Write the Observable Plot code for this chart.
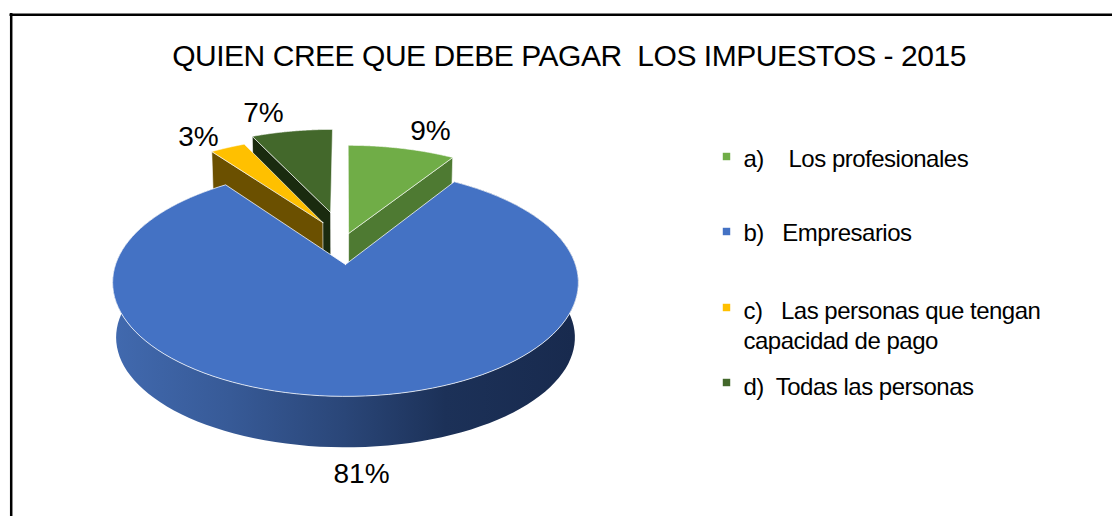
<!DOCTYPE html>
<html><head><meta charset="utf-8">
<script src="https://cdn.jsdelivr.net/npm/d3@7"></script>
<script src="https://cdn.jsdelivr.net/npm/@observablehq/plot@0.6"></script>
<style>html,body{margin:0;padding:0;background:#fff}svg{display:block}
g[font-size="24"]{letter-spacing:-0.5px}
g[font-size="30"]{letter-spacing:-0.47px}
</style>
</head><body><div id="chart"></div>
<script>
const titleText = "QUIEN CREE QUE DEBE PAGAR  LOS IMPUESTOS - 2015";
const categories = ["a)    Los profesionales", "b)   Empresarios", "c)   Las personas que tengan", "d)  Todas las personas"];
const categoryExtraLine = "capacidad de pago";
const percents = [9, 81, 3, 7];

// styling
const topColors = ["#70ad47", "#4472c4", "#ffc000", "#43682b"];
const sideColors = ["#4e7a32", "url(#blueSide)", "#6b5000", "#1a2b0f"];
const explode = [[0.014, 0.292], [0, 0], [-0.105, 0.402], [-0.07, 0.506]];

// pixel helpers for the unit scales
const ux = px => (px - 345) / 233, uy = py => (282 - py) / 114;

// perspective projection of the pie plane to the unit ellipse
const k = 0.158;
const project = (X, Y) => { const d = 1 + k * Y; return [0.987 * X / d, k + 0.974 * Y / d]; };
const lower = ([u, v]) => [u * 0.985, v * 0.965 - 0.482];

let acc = 0;
const slices = percents.map((p, i) => {
  const total = d3.sum(percents);
  const a0 = acc / total * 2 * Math.PI; acc += p; const a1 = acc / total * 2 * Math.PI;
  const [ex, ey] = explode[i];
  const pt = a => project(Math.sin(a) + ex, Math.cos(a) + ey);
  const apex = project(ex, ey);
  const rim = d3.range(0, 121).map(j => pt(a0 + (a1 - a0) * j / 120));
  return {i, a0, a1, apex, rim, pt};
});
const face = s => [s.apex, ...s.rim, s.apex];
const radial = (s, a) => { const r = s.pt(a); return [s.apex, r, lower(r), lower(s.apex), s.apex]; };
const blue = slices[1];
const blueSide = [...blue.rim, ...blue.rim.slice().reverse().map(lower)];
const shape = (pts, fill, sw = 0.8, so = 0.75) => Plot.line(pts.map(([u, v]) => ({u, v})), {x: "u", y: "v", fill, stroke: "#fff", strokeWidth: sw, strokeOpacity: so, curve: "linear-closed"});

const labelPos = [[430, 131], [361, 474], [198, 137], [263, 113]];
const legendRows = [159, 233, 311, 387];
const legendSq = [156, 231, 307, 382];

const T = {fontFamily: "Liberation Sans", fill: "#000"};
const chart = Plot.plot({
  width: 1112, height: 516, margin: 0,
  x: {domain: [-1, 1], range: [112, 578], axis: null},
  y: {domain: [-1, 1], range: [396, 168], axis: null},
  style: {background: "#fff", whiteSpace: "pre"},
  marks: [
    () => { const s = d3.create("svg:defs");
      const g = s.append("linearGradient").attr("id", "blueSide").attr("gradientUnits", "userSpaceOnUse")
        .attr("x1", 115).attr("x2", 573).attr("y1", 0).attr("y2", 0);
      [[0, "#4169ae"], [0.25, "#375a97"], [0.5, "#2a4678"], [0.72, "#1c3158"], [1, "#182a4e"]]
        .forEach(([o, c]) => g.append("stop").attr("offset", o).attr("stop-color", c));
      return s.node(); },
    Plot.ruleX([ux(10.7)], {y1: uy(13), y2: uy(516), stroke: "#000", strokeWidth: 2.5}),
    Plot.ruleY([uy(14.2)], {x1: ux(9.5), x2: ux(1112), stroke: "#000", strokeWidth: 2.5}),
    // back slices
    shape(radial(slices[3], slices[3].a0), sideColors[3]),
    shape(face(slices[3]), topColors[3]),
    shape(radial(slices[2], slices[2].a0), sideColors[2]),
    shape(face(slices[2]), topColors[2]),
    shape(radial(slices[0], slices[0].a1), sideColors[0]),
    shape(face(slices[0]), topColors[0]),
    // front slice
    shape(blueSide, sideColors[1], 0),
    shape(face(blue), topColors[1], 1),
    // data labels
    Plot.text(percents.map((p, i) => ({t: p + "%", u: ux(labelPos[i][0]), v: uy(labelPos[i][1])})),
      {x: "u", y: "v", text: "t", fontSize: 28, ...T}),
    // title
    Plot.text([titleText], {x: [ux(568.5)], y: [uy(56)], text: d => d, fontSize: 30, ...T}),
    // legend
    Plot.dot(categories.map((c, i) => ({c, u: ux(726), v: uy(legendSq[i]), col: topColors[i]})),
      {x: "u", y: "v", fill: d => d.col, symbol: "square", r: 4.2, stroke: null}),
    Plot.text(categories.map((c, i) => ({c, u: ux(743), v: uy(legendRows[i])})),
      {x: "u", y: "v", text: "c", textAnchor: "start", fontSize: 24, ...T}),
    Plot.text([categoryExtraLine], {x: [ux(743)], y: [uy(341)], text: d => d, textAnchor: "start", fontSize: 24, ...T})
  ]
});
document.getElementById("chart").append(chart);
</script>
</body></html>
